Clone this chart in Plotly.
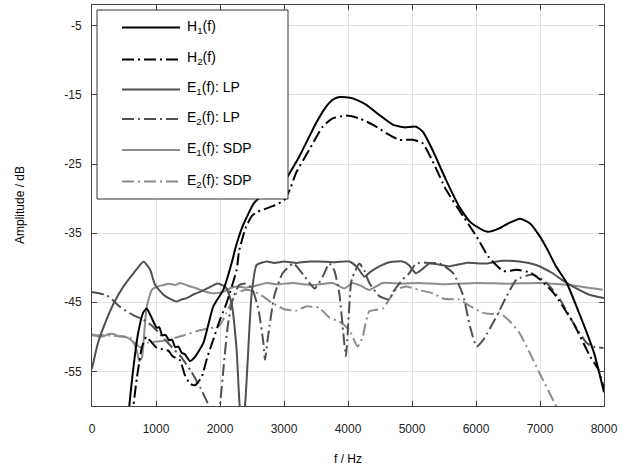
import plotly.graph_objects as go

# Frequency responses and error spectra (frequency in Hz, amplitude in dB)
h1_f = [560, 640, 720, 800, 855, 920, 1011, 1050, 1100, 1150, 1200, 1250, 1300, 1350, 1400, 1450,
        1531, 1600, 1739, 1895, 2051, 2197, 2234, 2354, 2536, 2750, 2978, 3239, 3500, 3650, 3760,
        3864, 4073, 4281, 4489, 4698, 4880, 5062, 5166, 5323, 5531, 5739, 5900, 6000, 6182, 6364,
        6500, 6689, 6845, 7000, 7106, 7250, 7418, 7600, 7731, 7850, 7939, 8000]
h1_db = [-62, -55, -49.5, -46.5, -45.9, -47, -48.7, -48.6, -49.8, -49.7, -50.5, -50.4, -51.5, -51.4,
         -52.3, -52.5, -53.5, -53, -50.9, -45.6, -43.2, -38.8, -37.4, -34, -30.6, -29, -27.8, -23.9,
         -19.1, -16.8, -15.7, -15.3, -15.5, -16.4, -17.9, -19.3, -19.7, -19.6, -20.3, -23, -27.3,
         -31.2, -33.3, -34, -34.8, -34.3, -33.6, -32.9, -33.6, -35.5, -37.2, -39.8, -42.2, -46.3,
         -49.4, -52.5, -55.7, -58]

h2_f = [620, 700, 780, 850, 932, 1000, 1100, 1192, 1260, 1375, 1450, 1531, 1609, 1714, 1800, 1895,
        2000, 2103, 2260, 2300, 2406, 2500, 2588, 2822, 3005, 3100, 3188, 3396, 3604, 3760, 3969,
        4177, 4385, 4594, 4802, 5010, 5167, 5323, 5531, 5802, 6010, 6193, 6427, 6635, 6845, 7000,
        7208, 7521, 7781, 7911, 8000]
h2_db = [-62, -56, -51.5, -50, -50.8, -51.5, -51.8, -52, -52.8, -53.4, -55.5, -56.8, -57, -55.8, -53,
         -50.4, -47.5, -45.1, -40.3, -37.5, -34.1, -32.5, -31.9, -31.1, -30.2, -28.5, -26.3, -22.9,
         -19.6, -18.4, -18, -18.4, -19.3, -20.5, -21.5, -21.5, -22, -24.6, -28.7, -32.6, -35.5,
         -38.4, -40.5, -40.3, -40.7, -41.7, -43.6, -48, -52.8, -54.7, -57.5]

e1_lp_f = [0, 90, 180, 336, 492, 648, 805, 850, 909, 987, 1117, 1200, 1325, 1400, 1481, 1600, 1689,
           1800, 1948, 2050, 2104, 2182, 2260, 2312, 2350, 2390, 2495, 2573, 2729, 2850, 3000, 3200,
           3400, 3551, 3800, 4020, 4150, 4255, 4350, 4489, 4650, 4853, 4950, 5062, 5150, 5270, 5400,
           5583, 5844, 6156, 6400, 6677, 6938, 7197, 7350, 7510, 7771, 8000]
e1_lp_db = [-54.6, -51, -48.6, -45.2, -42.7, -40.8, -39.1, -39.5, -40.3, -42.5, -43.9, -44.4, -44.9,
            -44.6, -44.4, -43.8, -43.5, -43, -42.3, -42.6, -43, -45.2, -51.9, -60.5, -62, -60,
            -43.7, -39.6, -39.1, -39.3, -39.1, -39.3, -39.1, -39.1, -39.2, -39.1, -40, -41.3, -40.6,
            -39.8, -39.2, -39.1, -39.6, -40.8, -40.3, -39.4, -39.5, -39.8, -39.3, -39.4, -39,
            -39.1, -39.6, -40.8, -41.8, -42.7, -43.9, -44.4]

e2_lp_f = [0, 234, 443, 651, 800, 950, 1100, 1250, 1400, 1550, 1700, 1850, 1900, None,
           1980, 2000, 2060, 2120, 2200, 2300, 2400, 2500, 2600, 2680, 2703, 2750, 2850, 2978,
           3145, 3300, 3396, 3480, 3604, 3708, 3786, 3864, 3942, 3969, 3995, 4047, 4073, 4177,
           4255, 4333, 4489, 4645, 4697, 4853, 4958, 5062, 5250, 5437, 5645, 5802, 5906, 6010,
           6115, 6323, 6479, 6635, 6896, 7104, 7313, 7521, 7730, 7834, 7990]
e2_lp_db = [-43.5, -44, -45.7, -46.9, -47.5, -48.5, -50, -51.5, -53, -55, -57.5, -60.5, -62, None,
            -62, -60, -54, -48.5, -44.5, -42.5, -42.3, -43, -46, -51, -53.3, -50, -44, -40.8,
            -39.4, -41, -42.2, -43, -41.3, -39.4, -40.4, -43.7, -50.9, -52.8, -49.4, -42.2, -41.3,
            -39.4, -40.4, -42.2, -44.1, -44.6, -43.6, -41.7, -40.8, -39.4, -39.3, -39.4, -40.8,
            -44.1, -48.5, -51.4, -50.4, -47, -44.1, -41.7, -41, -42.2, -44.6, -48, -50.9, -51.4,
            -51.6]

e1_sdp_f = [0, 90, 180, 260, 336, 420, 492, 570, 648, 700, 740, 780, 820, 856, 934, 1000, 1117,
            1200, 1300, 1375, 1500, 1636, 1750, 1895, 2051, 2150, 2260, 2400, 2520, 2729, 2900,
            3145, 3300, 3457, 3760, 3942, 4073, 4200, 4333, 4541, 4800, 5114, 5500, 6000, 6500,
            6990, 7458, 7979]
e1_sdp_db = [-49.6, -49.9, -49.9, -49.6, -49.6, -49.9, -49.9, -50.2, -50.8, -52, -53.5, -53, -49,
             -45.6, -43.2, -42.8, -42.5, -42.3, -42.5, -42.2, -42.6, -43, -43.4, -43.7, -43.5, -43,
             -42.7, -42.9, -42.7, -42.2, -42.4, -42.2, -42.4, -42.5, -42.2, -43, -42.2, -42.6,
             -43.2, -42.2, -42.3, -42.2, -42.4, -42.2, -42.3, -42.2, -42.5, -43.2]

e2_sdp_f = [0, 300, 600, 750, 880, 1100, 1427, 1700, 1990, 2100, 2260, 2400, 2520, 2650, 2800, 3000,
            3188, 3350, 3551, 3708, 3864, 4020, 4150, 4228, 4333, 4541, 4650, 4750, 4906, 5100,
            5323, 5500, 5739, 5900, 6103, 6250, 6364, 6500, 6677, 6850, 6990, 7250, 7350]
e2_sdp_db = [-49.8, -49.8, -50.2, -51.5, -50.8, -50.6, -49.8, -49, -48.4, -46.5, -43.7, -43.2, -43.4,
             -44, -45, -46, -46.2, -45.6, -45.8, -47.2, -47.8, -49, -51.4, -50, -46.3, -45.9, -44.5,
             -43.2, -42.7, -43.2, -43.7, -44.5, -44.6, -45.5, -46.5, -46.7, -46.5, -47.5, -49.4,
             -52.5, -55.2, -60, -62]

x_ticks = [0, 1000, 2000, 3000, 4000, 5000, 6000, 7000, 8000]
y_ticks = [-55, -45, -35, -25, -15, -5]

BLACK = "#000000"
DARK = "#505050"
LIGHT = "#8c8c8c"
DASHDOT = "12px,4px,2px,4px"

series = [
    ("H<sub>1</sub>(f)", h1_f, h1_db, BLACK, "solid"),
    ("H<sub>2</sub>(f)", h2_f, h2_db, BLACK, DASHDOT),
    ("E<sub>1</sub>(f): LP", e1_lp_f, e1_lp_db, DARK, "solid"),
    ("E<sub>2</sub>(f): LP", e2_lp_f, e2_lp_db, DARK, DASHDOT),
    ("E<sub>1</sub>(f): SDP", e1_sdp_f, e1_sdp_db, LIGHT, "solid"),
    ("E<sub>2</sub>(f): SDP", e2_sdp_f, e2_sdp_db, LIGHT, DASHDOT),
]

fig = go.Figure()
# draw the light curves first so the darker ones sit on top
for name, fx, fy, col, dash in reversed(series):
    fig.add_trace(go.Scatter(
        x=fx, y=fy, mode="lines", name=name, showlegend=False,
        line=dict(color=col, width=2, dash=dash, shape="spline", smoothing=0.5),
        connectgaps=False,
    ))

# plot-area geometry in pixels (used to place the legend box)
W, H = 622, 472
L, R, T, B = 92, 18, 5, 66
pw, ph = W - L - R, H - T - B


def px(x):
    return (x - L) / pw


def py(y):
    return (H - B - y) / ph


shapes = [dict(type="rect", xref="paper", yref="paper",
               x0=px(97), x1=px(288), y0=py(199), y1=py(10),
               line=dict(color="#333333", width=1), fillcolor="white", layer="above")]
annotations = []
row_y = [27.5, 59.5, 89.5, 119, 150, 181.5]
for (name, _, _, col, dash), yy in zip(series, row_y):
    shapes.append(dict(type="line", xref="paper", yref="paper",
                       x0=px(122), x1=px(180), y0=py(yy), y1=py(yy),
                       line=dict(color=col, width=2, dash=dash), layer="above"))
    annotations.append(dict(xref="paper", yref="paper", x=px(185), y=py(yy - 1),
                            text=name, showarrow=False, xanchor="left", yanchor="middle",
                            font=dict(size=14, color="#000000")))

annotations.append(dict(xref="paper", yref="paper", x=px(348), y=py(459), text="f / Hz",
                        showarrow=False, xanchor="center", yanchor="middle",
                        font=dict(size=12, color="#000000")))
annotations.append(dict(xref="paper", yref="paper", x=px(20), y=py(205), text="Amplitude / dB",
                        showarrow=False, xanchor="center", yanchor="middle", textangle=-90,
                        font=dict(size=12, color="#000000")))

axis_common = dict(showline=True, linecolor="#444444", linewidth=1, mirror="ticks",
                   ticks="inside", ticklen=5, tickcolor="#444444", showgrid=True,
                   gridcolor="#e3e3e3", gridwidth=1, zeroline=False,
                   tickfont=dict(size=12, color="#222222"))

fig.update_layout(
    width=W, height=H,
    margin=dict(l=L, r=R, t=T, b=B, autoexpand=False),
    paper_bgcolor="white", plot_bgcolor="white",
    font=dict(family="Liberation Sans, Arial, sans-serif", size=12, color="#000000"),
    xaxis=dict(range=[0, 8000], tickvals=x_ticks, ticktext=[str(v) for v in x_ticks],
               ticklabelstandoff=12, **axis_common),
    yaxis=dict(range=[-60, -2], tickvals=y_ticks, ticktext=[str(v) for v in y_ticks],
               ticklabelstandoff=7, **axis_common),
    shapes=shapes, annotations=annotations, showlegend=False,
)

fig.write_html("out.html")
